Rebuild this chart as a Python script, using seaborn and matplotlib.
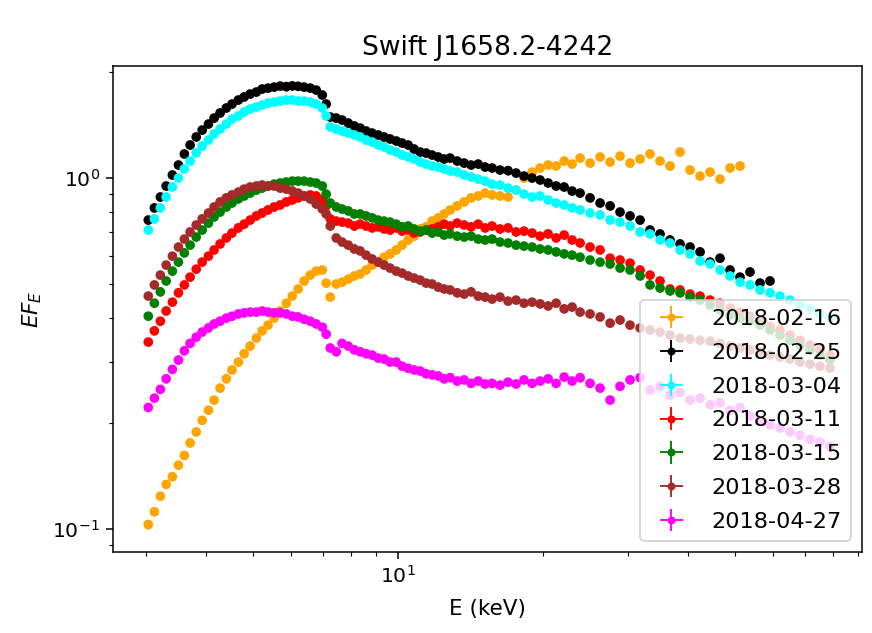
import numpy as np
import pandas as pd
import matplotlib
matplotlib.use("Agg")
import matplotlib.pyplot as plt
import seaborn as sns

# Energy grid (keV)
energy_kev = [3.03, 3.12, 3.21, 3.30, 3.40, 3.50, 3.60, 3.70, 3.81, 3.92,
              4.04, 4.15, 4.27, 4.40, 4.52, 4.66, 4.79, 4.93, 5.08, 5.22,
              5.37, 5.53, 5.69, 5.86, 6.03, 6.20, 6.38, 6.57, 6.76, 6.96,
              7.09,
              7.23, 7.44, 7.65, 7.88, 8.11, 8.34, 8.58, 8.83, 9.09, 9.35,
              9.62, 9.91, 10.19, 10.49, 10.79, 11.11, 11.43, 11.76, 12.11, 12.46,
              12.82,
              13.26, 13.71, 14.17, 14.66, 15.15, 15.67,
              16.27, 16.91, 17.57, 18.25, 18.97, 19.71, 20.48, 21.28, 22.11, 22.97, 23.86,
              25.02, 26.25, 27.54, 28.88, 30.29, 31.78, 33.33, 34.96, 36.67, 38.47,
              40.35, 42.33, 44.40, 46.57, 48.85, 51.23, 53.74, 56.37, 59.13, 62.02,
              65.06, 68.24, 71.58, 75.08, 78.75]

dates = ["2018-02-16", "2018-02-25", "2018-03-04", "2018-03-11",
         "2018-03-15", "2018-03-28", "2018-04-27"]
colors = ["orange", "black", "cyan", "red", "green", "brown", "magenta"]

flux_0216 = [0.103, 0.112, 0.124, 0.134, 0.141, 0.152, 0.162, 0.176, 0.189, 0.204,
             0.218, 0.233, 0.252, 0.268, 0.284, 0.299, 0.316, 0.332, 0.350, 0.367,
             0.381, 0.399, 0.418, 0.440, 0.461, 0.483, 0.509, 0.529, 0.543, 0.547,
             0.502,
             0.458, 0.499, 0.505, 0.515, 0.526, 0.533, 0.547, 0.565, 0.576, 0.595,
             0.608, 0.624, 0.644, 0.666, 0.683, 0.716, 0.726, 0.754, 0.770, 0.790,
             0.811,
             0.833, 0.855, 0.878, 0.889, 0.906, 0.895,
             0.889, 0.883, 0.924, 1.000, 1.040, 1.068, 1.089, 1.082, 1.118, 1.096, 1.140,
             1.103, 1.148, 1.111, 1.155, 1.103, 1.133, 1.171, 1.118, 1.082, 1.186,
             1.054, 1.013, 1.040, 0.993, 1.068, 1.082]

flux_0225 = [0.759, 0.822, 0.883, 0.949, 1.020, 1.089, 1.171, 1.242, 1.309, 1.370,
             1.425, 1.482, 1.532, 1.583, 1.625, 1.668, 1.702, 1.735, 1.758, 1.793,
             1.804, 1.816, 1.828, 1.822, 1.830, 1.825, 1.816, 1.804, 1.781, 1.724,
             1.625,
             1.492, 1.482, 1.463, 1.434, 1.407, 1.388, 1.361, 1.343, 1.326, 1.309,
             1.292, 1.275, 1.258, 1.242, 1.210, 1.186, 1.178, 1.163, 1.148, 1.133,
             1.140,
             1.118, 1.103, 1.089, 1.096, 1.075, 1.068,
             1.054, 1.050, 1.033, 1.013, 1.000, 0.987, 0.968, 0.949, 0.943, 0.918, 0.906,
             0.878, 0.849, 0.833, 0.800, 0.780, 0.759, 0.711, 0.693, 0.666, 0.649,
             0.636, 0.616, 0.576, 0.591, 0.547, 0.522, 0.540, 0.502, 0.509]

flux_0304 = [0.711, 0.765, 0.822, 0.883, 0.943, 1.000, 1.061, 1.118, 1.179, 1.234,
             1.283, 1.335, 1.379, 1.425, 1.473, 1.502, 1.542, 1.572, 1.593, 1.614,
             1.635, 1.646, 1.657, 1.668, 1.668, 1.657, 1.657, 1.646, 1.625, 1.583,
             1.502,
             1.398, 1.379, 1.361, 1.343, 1.326, 1.309, 1.283, 1.266, 1.242, 1.226,
             1.202, 1.186, 1.163, 1.148, 1.133, 1.111, 1.096, 1.082, 1.075, 1.061,
             1.047,
             1.040, 1.020, 1.007, 0.993, 0.980, 0.961,
             0.955, 0.936, 0.924, 0.900, 0.883, 0.889, 0.866, 0.849, 0.838, 0.822, 0.811,
             0.795, 0.785, 0.759, 0.749, 0.730, 0.702, 0.693, 0.666, 0.653, 0.624,
             0.608, 0.580, 0.569, 0.547, 0.526, 0.505, 0.496, 0.480, 0.471, 0.461,
             0.449, 0.435, 0.424, 0.410, 0.399]

flux_0311 = [0.341, 0.367, 0.391, 0.418, 0.443, 0.471, 0.496, 0.522, 0.550, 0.576,
             0.599, 0.624, 0.649, 0.675, 0.697, 0.721, 0.739, 0.759, 0.780, 0.795,
             0.811, 0.827, 0.838, 0.855, 0.866, 0.878, 0.889, 0.895, 0.889, 0.866,
             0.833,
             0.765, 0.754, 0.749, 0.744, 0.730, 0.739, 0.730, 0.721, 0.726, 0.716,
             0.711, 0.721, 0.706, 0.711, 0.697, 0.702, 0.711, 0.716, 0.726, 0.739,
             0.730,
             0.744, 0.735, 0.726, 0.739, 0.721, 0.730,
             0.716, 0.721, 0.702, 0.706, 0.697, 0.683, 0.693, 0.675, 0.688, 0.666, 0.653,
             0.636, 0.624, 0.591, 0.584, 0.572, 0.547, 0.529, 0.509, 0.483, 0.480,
             0.467, 0.461, 0.449, 0.440, 0.426, 0.415, 0.404, 0.391, 0.378, 0.369,
             0.357, 0.345, 0.334, 0.324, 0.313]

flux_0315 = [0.404, 0.440, 0.474, 0.509, 0.543, 0.576, 0.612, 0.644, 0.679, 0.711,
             0.744, 0.775, 0.800, 0.827, 0.849, 0.872, 0.889, 0.906, 0.924, 0.936,
             0.949, 0.961, 0.968, 0.974, 0.980, 0.980, 0.980, 0.974, 0.968, 0.949,
             0.900,
             0.849, 0.827, 0.816, 0.806, 0.790, 0.790, 0.780, 0.770, 0.759, 0.754,
             0.749, 0.739, 0.726, 0.730, 0.716, 0.706, 0.711, 0.697, 0.702, 0.688,
             0.693,
             0.683, 0.679, 0.683, 0.670, 0.666, 0.670,
             0.657, 0.653, 0.644, 0.640, 0.636, 0.628, 0.624, 0.616, 0.608, 0.603, 0.595,
             0.584, 0.576, 0.569, 0.554, 0.547, 0.526, 0.496, 0.486, 0.477, 0.471,
             0.458, 0.449, 0.435, 0.421, 0.407, 0.399, 0.391, 0.381, 0.369, 0.357,
             0.345, 0.334, 0.324, 0.313, 0.303]

flux_0328 = [0.461, 0.496, 0.529, 0.565, 0.599, 0.636, 0.670, 0.702, 0.735, 0.765,
             0.795, 0.827, 0.855, 0.878, 0.895, 0.912, 0.930, 0.943, 0.949, 0.955,
             0.949, 0.949, 0.936, 0.930, 0.918, 0.906, 0.889, 0.872, 0.843, 0.816,
             0.790,
             0.730, 0.675, 0.657, 0.644, 0.628, 0.620, 0.603, 0.588, 0.576, 0.565,
             0.554, 0.543, 0.536, 0.526, 0.519, 0.512, 0.502, 0.499, 0.489, 0.483,
             0.480,
             0.471, 0.467, 0.474, 0.461, 0.458, 0.452,
             0.458, 0.446, 0.449, 0.440, 0.443, 0.438, 0.432, 0.440, 0.424, 0.429, 0.415,
             0.410, 0.402, 0.386, 0.394, 0.381, 0.374, 0.369, 0.364, 0.357, 0.350,
             0.348, 0.345, 0.343, 0.338, 0.332, 0.328, 0.324, 0.320, 0.313, 0.309,
             0.305, 0.299, 0.295, 0.291, 0.288]

flux_0427 = [0.222, 0.236, 0.250, 0.268, 0.285, 0.303, 0.322, 0.338, 0.352, 0.364,
             0.374, 0.384, 0.391, 0.399, 0.404, 0.410, 0.413, 0.415, 0.415, 0.418,
             0.415, 0.413, 0.413, 0.410, 0.404, 0.402, 0.396, 0.391, 0.384, 0.376,
             0.359,
             0.328, 0.320, 0.338, 0.332, 0.324, 0.320, 0.316, 0.313, 0.307, 0.305,
             0.299, 0.299, 0.291, 0.287, 0.284, 0.282, 0.277, 0.275, 0.273, 0.268,
             0.270,
             0.264, 0.266, 0.260, 0.264, 0.259, 0.260,
             0.257, 0.262, 0.259, 0.266, 0.260, 0.264, 0.268, 0.260, 0.271, 0.264, 0.270,
             0.260, 0.252, 0.233, 0.255, 0.266, 0.270, 0.249, 0.255, 0.241, 0.245,
             0.233, 0.236, 0.226, 0.229, 0.218, 0.222, 0.210, 0.204, 0.198, 0.194,
             0.189, 0.185, 0.180, 0.177, 0.172]

series = [flux_0216, flux_0225, flux_0304, flux_0311, flux_0315, flux_0328, flux_0427]

frames = []
for d, f in zip(dates, series):
    frames.append(pd.DataFrame({"E": energy_kev[:len(f)], "EF": f, "date": d}))
df = pd.concat(frames, ignore_index=True)

fig = plt.figure(figsize=(6.4, 633 / 136.25), dpi=136.25)
ax = fig.add_axes([113 / 872, 1 - 552 / 633, (862 - 113) / 872, (552 - 66) / 633])
ax.set_xscale("log")
ax.set_yscale("log")

sns.scatterplot(data=df, x="E", y="EF", hue="date", hue_order=dates,
                palette=dict(zip(dates, colors)), s=26, linewidth=0,
                edgecolor="none", legend=False, ax=ax, zorder=2)

for d, c, f in zip(dates, colors, series):
    e = np.array(energy_kev[:len(f)])
    v = np.array(f)
    ax.errorbar(e, v, xerr=e * 0.008, yerr=v * 0.012, fmt="o", ms=3.2,
                color=c, ecolor=c, elinewidth=1.0, label=d, zorder=1)

ax.set_xlim(2.56, 91.8)
ax.set_ylim(0.086, 2.085)

ax.set_title("Swift J1658.2-4242", fontsize=14)
ax.set_xlabel("E (keV)", fontsize=11.4, labelpad=6)
ax.set_ylabel(r"$EF_E$", fontsize=11.4, labelpad=4)
ax.tick_params(axis="both", which="major", labelsize=10.8)

ax.legend(loc="lower right", fontsize=11.8, labelspacing=0.62)

fig.savefig("out.png", dpi=136.25)
